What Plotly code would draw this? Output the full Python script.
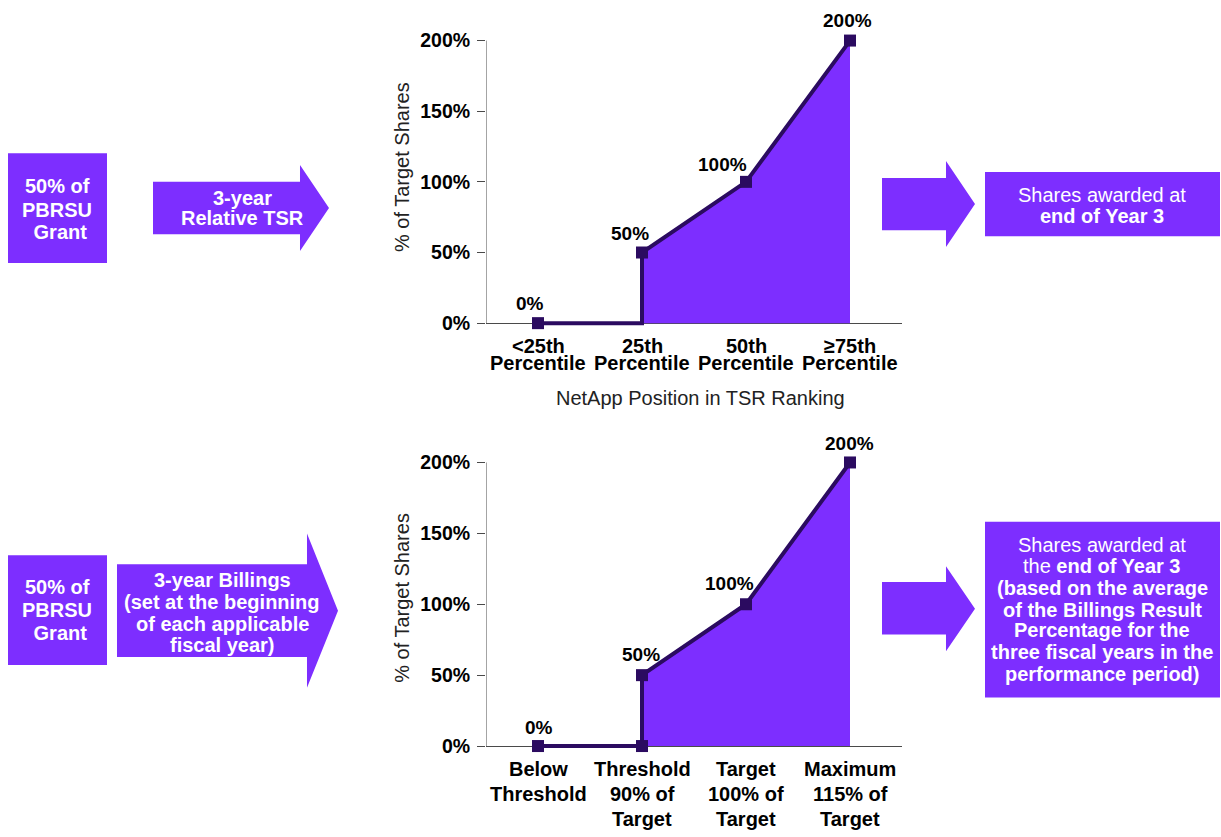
import plotly.graph_objects as go

W, H = 1221, 837

# ---- data ----
tsr_labels_top = ["&lt;25th", "25th", "50th", "≥75th"]
tsr_labels_bottom = ["Percentile", "Percentile", "Percentile", "Percentile"]
tsr_payout = [0, 50, 100, 200]

billings_labels = [
    ["Below", "Threshold"],
    ["Threshold", "90% of", "Target"],
    ["Target", "100% of", "Target"],
    ["Maximum", "115% of", "Target"],
]
billings_payout = [0, 50, 100, 200]

y_ticks = [0, 50, 100, 150, 200]

# ---- styles ----
PURPLE = "#7D2EFF"
DARK = "#2B0B60"
AXIS = "#4A4A4A"
FONT = "Liberation Sans, Arial, sans-serif"
LO, HI = -4, 204


def px(x):
    return x / W


def py(y):
    return 1 - y / H


def y_domain(y0_px, y200_px):
    k = (y0_px - y200_px) / 200.0
    bottom = y0_px - LO * k
    top = y200_px - (HI - 200) * k
    return [py(bottom), py(top)]


fig = go.Figure()

panels = [
    dict(xa="x", ya="y", values=tsr_payout, mark_step=False,
         offsets=[(-8, 20), (-12, 19), (-24, 17), (-3, 20)]),
    dict(xa="x2", ya="y2", values=billings_payout, mark_step=True,
         offsets=[(1, 19), (-1, 21), (-17, 21), (-1, 19)]),
]

annotations = []
shapes = []

for p in panels:
    v = p["values"]
    pos = list(range(len(v)))
    # shaded payout area from the threshold onwards
    fig.add_trace(go.Scatter(
        x=pos[1:], y=v[1:], xaxis=p["xa"], yaxis=p["ya"], mode="lines",
        line=dict(width=0, color=PURPLE), fill="tozeroy", fillcolor=PURPLE,
        hoverinfo="skip", showlegend=False))
    # payout curve with a vertical step at the threshold
    lx = [pos[0], pos[1], pos[1]] + pos[2:]
    ly = [v[0], v[0], v[1]] + v[2:]
    fig.add_trace(go.Scatter(
        x=lx, y=ly, xaxis=p["xa"], yaxis=p["ya"], mode="lines",
        line=dict(width=4, color=DARK), showlegend=False, hoverinfo="skip"))
    mx, my = list(pos), list(v)
    if p["mark_step"]:
        mx.append(pos[1])
        my.append(v[0])
    fig.add_trace(go.Scatter(
        x=mx, y=my, xaxis=p["xa"], yaxis=p["ya"], mode="markers",
        marker=dict(symbol="square", size=12, color=DARK),
        cliponaxis=False, showlegend=False))
    # value labels
    for i, (val, (dx, dy)) in enumerate(zip(v, p["offsets"])):
        annotations.append(dict(
            x=pos[i], y=val, xref=p["xa"], yref=p["ya"], text=f"<b>{val}%</b>",
            showarrow=False, xshift=dx, yshift=dy, xanchor="center", yanchor="middle",
            font=dict(family=FONT, size=19, color="black")))
    # y axis line from 0 to 200
    shapes.append(dict(type="line", xref=p["xa"], yref=p["ya"], x0=-0.5, x1=-0.5,
                       y0=0, y1=200, line=dict(color=AXIS, width=1), layer="below"))

# category labels under each chart
for i, (a, b) in enumerate(zip(tsr_labels_top, tsr_labels_bottom)):
    for text, shift in ((a, -23), (b, -40)):
        annotations.append(dict(
            x=i, y=0, xref="x", yref="y", text=f"<b>{text}</b>", showarrow=False,
            yshift=shift, xanchor="center", yanchor="middle",
            font=dict(family=FONT, size=20, color="black")))

for i, lines in enumerate(billings_labels):
    for j, text in enumerate(lines):
        annotations.append(dict(
            x=i, y=0, xref="x2", yref="y2", text=f"<b>{text}</b>", showarrow=False,
            yshift=-23 - 25 * j, xanchor="center", yanchor="middle",
            font=dict(family=FONT, size=20, color="black")))

# axis titles
for yc in (164, 600):
    annotations.append(dict(x=px(402), y=py(yc), xref="paper", yref="paper",
                            xanchor="center", yanchor="middle",
                            text="% of Target Shares", textangle=-90, showarrow=False,
                            font=dict(family=FONT, size=20, color="#222")))
annotations.append(dict(x=px(700), y=py(398), xref="paper", yref="paper",
                        xanchor="center", yanchor="middle",
                        text="NetApp Position in TSR Ranking", showarrow=False,
                        font=dict(family=FONT, size=20, color="#222")))


# ---- flow boxes and arrows ----
def rect(x0, y0, x1, y1):
    shapes.append(dict(type="rect", xref="paper", yref="paper",
                       x0=px(x0), x1=px(x1), y0=py(y1), y1=py(y0),
                       fillcolor=PURPLE, line=dict(width=0), layer="below"))


def arrow(x0, x1, xt, by0, by1, hy0, hy1):
    ty = (hy0 + hy1) / 2
    pts = [(x0, by0), (x1, by0), (x1, hy0), (xt, ty), (x1, hy1), (x1, by1), (x0, by1)]
    path = "M " + " L ".join(f"{px(a):.5f},{py(b):.5f}" for a, b in pts) + " Z"
    shapes.append(dict(type="path", xref="paper", yref="paper", path=path,
                       fillcolor=PURPLE, line=dict(width=0), layer="below"))


def text_lines(xc, ys, lines, size=20):
    for y, t in zip(ys, lines):
        annotations.append(dict(x=px(xc), y=py(y), xref="paper", yref="paper",
                                text=t, showarrow=False, xanchor="center",
                                yanchor="middle",
                                font=dict(family=FONT, size=size, color="white")))


rect(8, 150, 107, 261)
text_lines(57, [183, 207, 230], ["<b>50% of</b>", "<b>PBRSU</b>", "<b> Grant</b>"])
arrow(153, 300, 329, 179, 232, 162, 249)
text_lines(242, [195, 216], ["<b>3-year</b>", "<b>Relative TSR</b>"])
arrow(882, 946, 975, 175, 228, 158, 245)
rect(985, 169, 1220, 234)
text_lines(1102, [192, 214], ["Shares awarded at", "<b>end of Year 3</b>"])

rect(8, 557, 107, 668)
text_lines(57, [589, 612, 636], ["<b>50% of</b>", "<b>PBRSU</b>", "<b> Grant</b>"])
arrow(117, 307, 338, 566, 660, 535, 691)
text_lines(222, [582, 604, 626, 648],
           ["<b>3-year Billings</b>", "<b>(set at the beginning</b>",
            "<b>of each applicable</b>", "<b>fiscal year)</b>"])
arrow(882, 946, 975, 584, 637, 568, 654)
rect(985, 523, 1220, 701)
text_lines(1102, [547, 568, 590, 612, 633, 655, 677],
           ["Shares awarded at", "the <b>end of Year 3</b>", "<b>(based on the average</b>",
            "<b>of the Billings Result</b>", "<b>Percentage for the</b>",
            "<b>three fiscal years in the</b>", "<b>performance period)</b>"])

xdom = [px(486), px(902)]
common_x = dict(domain=xdom, range=[-0.5, 3.5], showticklabels=False, showgrid=False,
                zeroline=False, showline=False, ticks="", fixedrange=True)
common_y = dict(range=[LO, HI], tickvals=y_ticks, ticktext=[f"<b>{t}%</b>" for t in y_ticks],
                ticks="outside", ticklen=8, tickcolor=AXIS, tickwidth=1,
                ticklabelstandoff=3,
                showgrid=False, showline=False, zeroline=True, zerolinecolor=AXIS,
                zerolinewidth=1, tickfont=dict(family=FONT, size=19.5, color="black"),
                layer="below traces", fixedrange=True)

fig.update_layout(
    width=W, height=H, margin=dict(l=0, r=0, t=0, b=0),
    paper_bgcolor="white", plot_bgcolor="white",
    xaxis=dict(common_x, anchor="y"),
    yaxis=dict(common_y, domain=y_domain(322, 36), anchor="x"),
    xaxis2=dict(common_x, anchor="y2"),
    yaxis2=dict(common_y, domain=y_domain(750, 463), anchor="x2"),
    annotations=annotations, shapes=shapes, showlegend=False,
)

fig.write_html("out.html")
